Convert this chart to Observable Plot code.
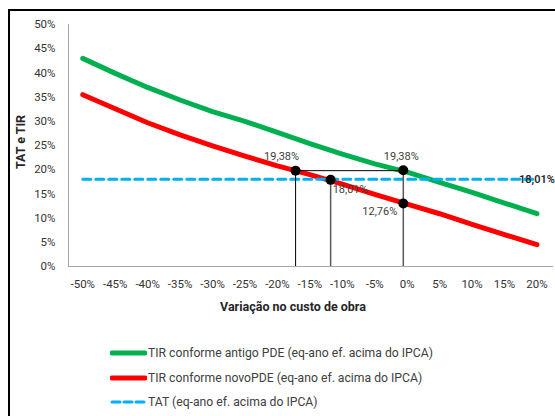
<!DOCTYPE html>
<html><head><meta charset="utf-8">
<script src="https://cdn.jsdelivr.net/npm/d3@7"></script>
<script src="https://cdn.jsdelivr.net/npm/@observablehq/plot@0.6"></script>
<style>
body{margin:0;background:#fff;font-family:Roboto,"Liberation Sans",sans-serif;}
#wrap{position:relative;width:555px;height:416px;overflow:hidden;background:#fff;}
#frame{position:absolute;left:8px;top:9px;width:600px;height:500px;border:2px solid #000;box-sizing:border-box;}
#chart{position:absolute;left:0;top:0;}
.ttl{position:absolute;font-weight:bold;font-size:12.5px;color:#262626;white-space:nowrap;}
#ytitle{left:20px;top:142px;transform:translate(-50%,-50%) rotate(-90deg);}
#xtitle{left:293px;top:306px;transform:translate(-50%,-50%);}
#legend{position:absolute;left:110px;top:0;font-size:12.2px;color:#404040;}
.row{position:absolute;left:0;height:14px;display:flex;align-items:center;white-space:nowrap;transform:translateY(-50%);}
.row svg{display:block;margin-right:1px;}
</style></head>
<body>
<div id="wrap">
<div id="frame"></div>
<div id="chart"></div>
<div class="ttl" id="ytitle">TAT e TIR</div>
<div class="ttl" id="xtitle">Variação no custo de obra</div>
<div id="legend"></div>
</div>
<script>
const cats = [-50,-45,-40,-35,-30,-25,-20,-15,-10,-5,0,5,10,15,20];
const tirAntigo = [43.0,39.9,37.0,34.4,32.0,30.0,27.7,25.4,23.2,21.2,19.5,17.4,15.3,13.1,10.9];
const tirNovo   = [35.5,32.6,29.7,27.2,24.9,22.8,20.8,19.0,17.0,14.9,12.9,10.9,8.7,6.6,4.5];
const tat       = [18.01,18.01,18.01,18.01,18.01,18.01,18.01,18.01,18.01,18.01,18.01,18.01,18.01,18.01,18.01];
const yTicks = [0,5,10,15,20,25,30,35,40,45,50];
const seriesNames = ["TIR conforme antigo PDE (eq-ano ef. acima do IPCA)","TIR conforme novoPDE (eq-ano ef. acima do IPCA)","TAT  (eq-ano ef. acima do IPCA)"];
const seriesColors = ["#00B050","#FF0000","#00B0F0"];
// annotated points
const markX = [-17.2,-11.8,-0.6,-0.6];
const markY = [19.8,17.9,19.9,13.0];
const markLabel = ["19,38%","18,01%","19,38%","12,76%"];
const tatLabel = "18,01%";

const data = cats.map((c,i)=>({c, g:tirAntigo[i], r:tirNovo[i], t:tat[i]}));
const marks = markX.map((x,i)=>({x, y:markY[i], label:markLabel[i]}));
const pct = d => d + "%";

const chart = Plot.plot({
  width:555, height:320,
  marginLeft:68, marginRight:2, marginTop:24, marginBottom:54,
  style:{fontFamily:"Roboto, 'Liberation Sans', sans-serif", fontSize:"11.5px", color:"#404040", background:"transparent", overflow:"visible"},
  x:{domain:[-52.2,22.55], label:null},
  y:{domain:[0,50], label:null},
  marks:[
    Plot.axisX({ticks:cats, tickSize:0, tickPadding:13, tickFormat:pct, label:null, fill:"#333"}),
    Plot.axisY({ticks:yTicks, tickSize:0, tickPadding:13, tickFormat:pct, label:null, fill:"#333"}),
    Plot.ruleX([-52.2],{y1:0, y2:50, stroke:"#a6a6a6", strokeWidth:1}),
    Plot.ruleY([0],{stroke:"#a6a6a6", strokeWidth:1}),
    Plot.line(data,{x:"c", y:"g", stroke:seriesColors[0], strokeWidth:5, strokeLinecap:"round", strokeLinejoin:"round"}),
    Plot.line(data,{x:"c", y:"r", stroke:seriesColors[1], strokeWidth:5, strokeLinecap:"round", strokeLinejoin:"round"}),
    Plot.line(data,{x:"c", y:"t", stroke:seriesColors[2], strokeWidth:3, strokeDasharray:"8,5"}),
    Plot.ruleX([marks[0]],{x:"x", y1:0, y2:"y", stroke:"#000", strokeWidth:1}),
    Plot.ruleX([marks[1], marks[2]],{x:"x", y1:0, y2:"y", stroke:"#595959", strokeWidth:1.5}),
    Plot.ruleY([marks[0]],{y:"y", x1:marks[0].x, x2:marks[2].x, stroke:"#000", strokeWidth:1}),
    Plot.dot(marks,{x:"x", y:"y", r:5, fill:"#000", stroke:"none"}),
    Plot.text([marks[0]],{x:"x", y:"y", text:"label", dx:-14, dy:-14, fill:"#404040", fontSize:11}),
    Plot.text([marks[2]],{x:"x", y:"y", text:"label", dx:-2, dy:-14, fill:"#404040", fontSize:11}),
    Plot.text([marks[1]],{x:"x", y:"y", text:"label", dx:2, dy:10, textAnchor:"start", fill:"#404040", fontSize:11}),
    Plot.text([marks[3]],{x:"x", y:"y", text:"label", dx:-6, dy:8, textAnchor:"end", fill:"#404040", fontSize:11}),
    Plot.text([data[data.length-1]],{x:"c", y:"t", text:()=>tatLabel, fill:"#262626", fontWeight:600, fontSize:11})
  ]
});
document.getElementById("chart").append(chart);

// legend
const legend = document.getElementById("legend");
const rowsY = [352.7, 377.7, 401.7];
seriesNames.forEach((name,i)=>{
  const row = document.createElement("div");
  row.className = "row";
  row.style.top = rowsY[i] + "px";
  const dash = i===2 ? 'stroke-dasharray="8,4"' : '';
  const w = i===2 ? 3 : 5;
  row.innerHTML = `<svg width="37" height="10"><line x1="2" y1="5" x2="35" y2="5" stroke="${seriesColors[i]}" stroke-width="${w}" stroke-linecap="round" ${dash}/></svg><span>${name}</span>`;
  legend.append(row);
});
</script>
</body></html>
